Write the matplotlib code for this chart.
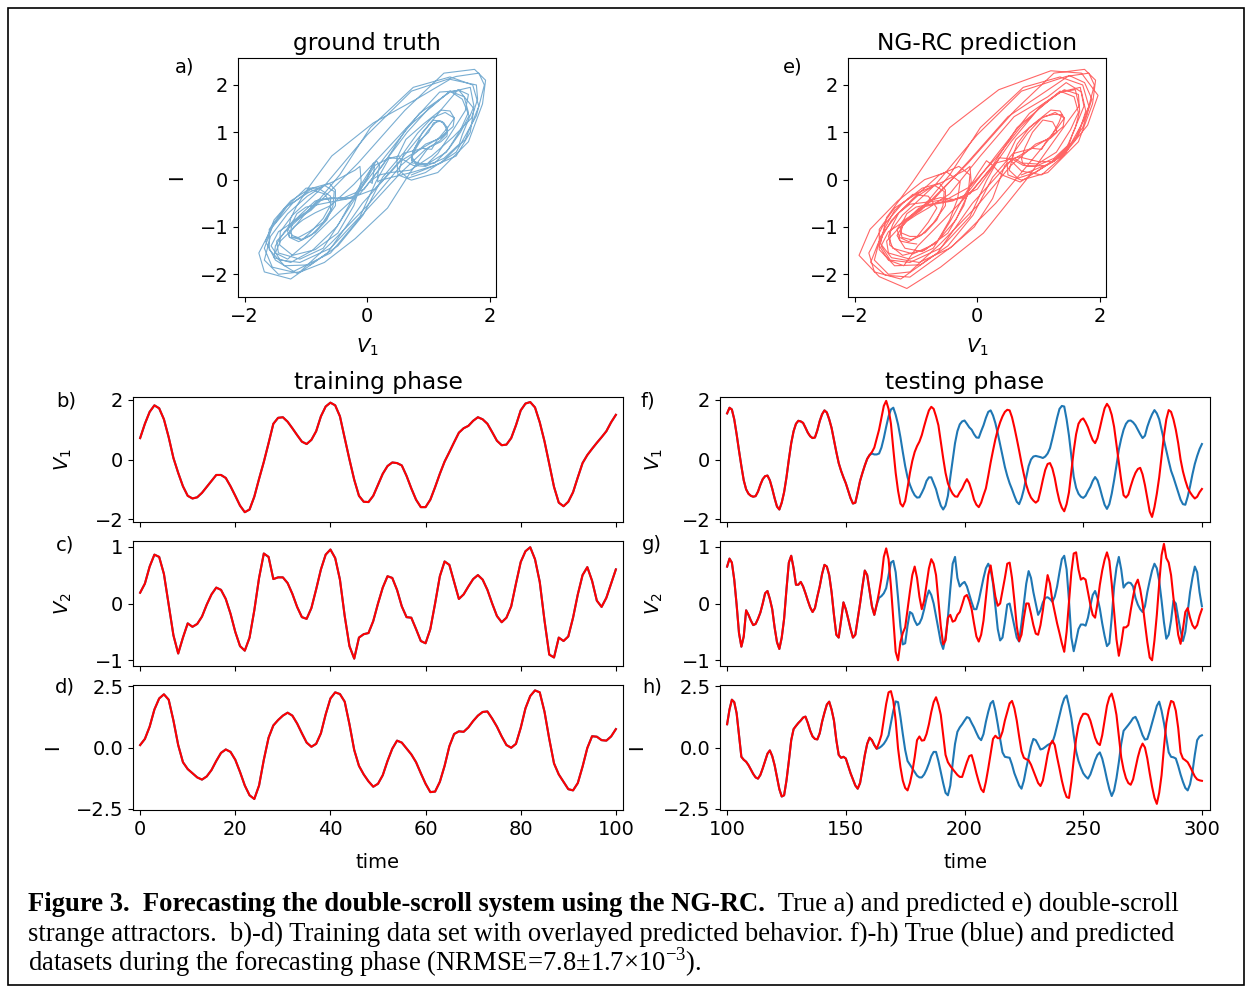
import numpy as np
import matplotlib
matplotlib.use('Agg')
import matplotlib.pyplot as plt
from matplotlib.patches import Rectangle

# ---------------- data: sampled every 1 time unit ----------------
t_train = np.arange(0, 101)
t_test = np.arange(100, 301)

v1_train = [
    0.72, 1.2, 1.6, 1.82, 1.72, 1.35, 0.75, 0.05, -0.45, -0.9,
    -1.22, -1.31, -1.27, -1.12, -0.92, -0.72, -0.52, -0.52, -0.62, -0.9,
    -1.22, -1.55, -1.77, -1.68, -1.25, -0.65, -0.08, 0.55, 1.2, 1.4,
    1.42, 1.27, 1.05, 0.82, 0.6, 0.52, 0.66, 0.95, 1.45, 1.78,
    1.91, 1.82, 1.45, 0.72, 0.0, -0.68, -1.22, -1.42, -1.43, -1.22,
    -0.85, -0.48, -0.22, -0.1, -0.12, -0.2, -0.55, -0.97, -1.35, -1.6,
    -1.6, -1.35, -0.93, -0.48, -0.07, 0.25, 0.58, 0.9, 1.05, 1.13,
    1.3, 1.42, 1.35, 1.2, 0.92, 0.63, 0.48, 0.5, 0.72, 1.15,
    1.65, 1.88, 1.93, 1.75, 1.25, 0.61, -0.15, -0.92, -1.45, -1.57,
    -1.42, -1.1, -0.6, -0.12, 0.15, 0.36, 0.56, 0.75, 0.95, 1.25,
    1.5]

v2_train = [
    0.19, 0.35, 0.65, 0.86, 0.82, 0.52, -0.02, -0.56, -0.88, -0.6,
    -0.35, -0.41, -0.36, -0.23, -0.02, 0.16, 0.28, 0.24, 0.08, -0.18,
    -0.5, -0.75, -0.83, -0.6, -0.12, 0.45, 0.88, 0.82, 0.43, 0.46,
    0.46, 0.36, 0.17, -0.06, -0.24, -0.27, -0.08, 0.25, 0.6, 0.86,
    0.95, 0.8, 0.42, -0.22, -0.75, -0.97, -0.6, -0.54, -0.52, -0.31,
    0.0, 0.28, 0.48, 0.45, 0.24, -0.05, -0.24, -0.25, -0.45, -0.66,
    -0.7, -0.45, 0.0, 0.48, 0.74, 0.68, 0.38, 0.08, 0.16, 0.3,
    0.43, 0.5, 0.42, 0.24, 0.0, -0.22, -0.33, -0.25, -0.05, 0.35,
    0.73, 0.92, 0.99, 0.78, 0.38, -0.3, -0.9, -0.95, -0.6, -0.66,
    -0.58, -0.25, 0.16, 0.5, 0.64, 0.4, 0.05, -0.06, 0.1, 0.35,
    0.6]

i_train = [
    0.1, 0.35, 0.85, 1.55, 2.0, 2.17, 1.95, 1.1, 0.1, -0.6,
    -0.88, -1.05, -1.22, -1.31, -1.18, -0.92, -0.55, -0.22, -0.08, -0.18,
    -0.5, -1.0, -1.55, -1.95, -2.1, -1.55, -0.5, 0.4, 0.9, 1.12,
    1.3, 1.42, 1.3, 0.98, 0.58, 0.2, 0.03, 0.15, 0.58, 1.35,
    2.0, 2.25, 2.18, 1.87, 0.95, -0.1, -0.75, -1.1, -1.38, -1.6,
    -1.48, -1.13, -0.55, -0.05, 0.28, 0.2, -0.04, -0.28, -0.6, -1.05,
    -1.48, -1.82, -1.8, -1.4, -0.75, 0.05, 0.55, 0.66, 0.64, 0.82,
    1.08, 1.3, 1.45, 1.47, 1.18, 0.85, 0.45, 0.1, -0.01, 0.15,
    0.8, 1.6, 2.1, 2.33, 2.25, 1.46, 0.35, -0.65, -1.1, -1.4,
    -1.7, -1.75, -1.45, -0.78, -0.02, 0.46, 0.44, 0.3, 0.28, 0.45,
    0.75]

# testing phase: prediction follows the truth for the first stretch
v1_shared = [
    1.55, 1.74, 1.68, 1.35, 0.85, 0.3, -0.22, -0.7, -1.0, -1.15,
    -1.22, -1.25, -1.23, -1.08, -0.85, -0.66, -0.56, -0.54, -0.7, -0.98,
    -1.3, -1.58, -1.68, -1.45, -1.1, -0.6, 0.0, 0.55, 0.95, 1.2,
    1.3, 1.28, 1.23, 1.07, 0.9, 0.78, 0.72, 0.74, 0.98, 1.29,
    1.52, 1.65, 1.58, 1.35, 1.06, 0.65, 0.25, -0.12, -0.38, -0.6,
    -0.8, -1.05, -1.3, -1.48, -1.45, -1.1, -0.72, -0.45, -0.2, 0.02,
    0.15]
v1_true_tail = [
    0.2, 0.17, 0.17, 0.2, 0.4, 0.72, 1.1, 1.45, 1.68, 1.74,
    1.5, 1.18, 0.75, 0.25, -0.22, -0.6, -0.85, -1.05, -1.2, -1.28,
    -1.27, -1.12, -0.95, -0.72, -0.6, -0.6, -0.8, -1.0, -1.3, -1.55,
    -1.68, -1.55, -1.22, -0.6, -0.02, 0.55, 0.95, 1.18, 1.28, 1.31,
    1.2, 1.08, 1.0, 0.85, 0.74, 0.73, 0.95, 1.15, 1.4, 1.6,
    1.65, 1.48, 1.22, 0.88, 0.5, 0.12, -0.25, -0.55, -0.8, -1.0,
    -1.22, -1.42, -1.5, -1.3, -1.0, -0.6, -0.22, 0.0, 0.1, 0.12,
    0.1, 0.08, 0.05, 0.1, 0.2, 0.38, 0.7, 1.05, 1.4, 1.7,
    1.8, 1.78, 1.35, 0.8, 0.1, -0.58, -0.95, -1.15, -1.25, -1.29,
    -1.22, -1.06, -0.92, -0.72, -0.59, -0.7, -0.95, -1.25, -1.52, -1.66,
    -1.5, -1.15, -0.7, -0.2, 0.33, 0.7, 1.0, 1.2, 1.3, 1.31,
    1.25, 1.15, 1.0, 0.85, 0.72, 0.8, 1.1, 1.33, 1.52, 1.66,
    1.55, 1.35, 1.0, 0.65, 0.3, -0.05, -0.38, -0.6, -0.85, -1.1,
    -1.35, -1.5, -1.52, -1.25, -0.9, -0.5, -0.15, 0.12, 0.35, 0.52]
v1_pred_tail = [
    0.25, 0.4, 0.7, 1.0, 1.4, 1.8, 1.97, 1.7, 1.2, 0.35,
    -0.45, -1.05, -1.48, -1.58, -1.4, -0.95, -0.45, -0.05, 0.25, 0.45,
    0.6, 0.82, 1.12, 1.4, 1.65, 1.77, 1.7, 1.45, 1.15, 0.6,
    0.05, -0.45, -0.8, -1.0, -1.15, -1.24, -1.25, -1.1, -0.98, -0.8,
    -0.66, -0.8, -1.05, -1.35, -1.52, -1.6, -1.45, -1.2, -0.97, -0.55,
    -0.1, 0.3, 0.68, 1.0, 1.25, 1.45, 1.6, 1.67, 1.65, 1.42,
    1.08, 0.7, 0.3, -0.12, -0.5, -0.85, -1.1, -1.28, -1.38, -1.45,
    -1.38, -1.05, -0.68, -0.35, -0.15, -0.12, -0.3, -0.62, -1.05, -1.4,
    -1.62, -1.74, -1.5, -1.1, -0.4, 0.3, 0.85, 1.2, 1.33, 1.38,
    1.25, 1.08, 0.85, 0.65, 0.55, 0.72, 1.05, 1.4, 1.72, 1.87,
    1.75, 1.5, 1.1, 0.5, -0.1, -0.7, -1.2, -1.28, -1.18, -0.9,
    -0.65, -0.45, -0.32, -0.28, -0.5, -0.86, -1.3, -1.75, -1.93, -1.6,
    -1.15, -0.6, 0.1, 0.8, 1.35, 1.66, 1.6, 1.35, 1.0, 0.55,
    0.0, -0.4, -0.7, -0.95, -1.1, -1.22, -1.31, -1.25, -1.1, -0.99]

v2_shared = [
    0.65, 0.79, 0.72, 0.42, -0.02, -0.52, -0.76, -0.58, -0.12, -0.2,
    -0.3, -0.38, -0.36, -0.27, -0.16, 0.0, 0.18, 0.22, 0.08, -0.1,
    -0.42, -0.68, -0.8, -0.6, -0.27, 0.25, 0.72, 0.84, 0.62, 0.33,
    0.33, 0.38, 0.3, 0.18, 0.05, -0.07, -0.15, -0.08, 0.12, 0.3,
    0.52, 0.68, 0.65, 0.5, 0.2, -0.2, -0.55, -0.6, -0.3, 0.02,
    -0.1, -0.27, -0.45, -0.6, -0.55, -0.28, 0.0, 0.3, 0.58, 0.5,
    0.22, -0.05, -0.2, -0.02]
v2_true_tail = [
    0.1, 0.13, 0.18, 0.27, 0.5, 0.72, 0.75, 0.55, 0.1, -0.4,
    -0.72, -0.7, -0.39, -0.15, -0.18, -0.3, -0.38, -0.35, -0.26, -0.1,
    0.1, 0.23, 0.15, 0.0, -0.22, -0.45, -0.68, -0.8, -0.6, -0.25,
    0.25, 0.7, 0.82, 0.45, 0.3, 0.35, 0.38, 0.3, 0.16, 0.02,
    -0.1, -0.1, 0.05, 0.25, 0.45, 0.62, 0.7, 0.6, 0.35, -0.05,
    -0.45, -0.65, -0.6, -0.33, -0.02, 0.0, -0.2, -0.4, -0.6, -0.67,
    -0.35, 0.0, 0.35, 0.57, 0.45, 0.2, 0.0, -0.2, -0.12, 0.02,
    0.1, 0.11, 0.08, 0.03, 0.12, 0.3, 0.55, 0.78, 0.84, 0.6,
    0.05, -0.6, -0.84, -0.65, -0.45, -0.37, -0.37, -0.39, -0.25, -0.04,
    0.15, 0.22, 0.1, -0.09, -0.35, -0.57, -0.75, -0.7, -0.25, 0.3,
    0.63, 0.82, 0.6, 0.28, 0.34, 0.37, 0.36, 0.3, 0.1, -0.02,
    -0.1, -0.15, -0.05, 0.2, 0.4, 0.58, 0.7, 0.62, 0.4, 0.05,
    -0.33, -0.62, -0.55, -0.3, 0.05, 0.0, -0.25, -0.48, -0.66, -0.5,
    -0.15, 0.2, 0.45, 0.65, 0.55, 0.2, -0.05]
v2_pred_tail = [
    0.2, 0.45, 0.82, 0.97, 0.78, 0.3, -0.27, -0.85, -1.0, -0.68,
    -0.52, -0.42, -0.1, 0.21, 0.5, 0.65, 0.45, 0.12, -0.1, 0.05,
    0.33, 0.62, 0.78, 0.7, 0.5, 0.05, -0.4, -0.72, -0.65, -0.25,
    -0.2, -0.32, -0.3, -0.2, -0.15, -0.02, 0.12, 0.15, 0.05, -0.1,
    -0.35, -0.58, -0.67, -0.55, -0.3, 0.1, 0.5, 0.67, 0.4, 0.12,
    -0.04, 0.0, 0.22, 0.45, 0.7, 0.72, 0.45, 0.05, -0.4, -0.66,
    -0.55, -0.25, 0.0, 0.0, -0.18, -0.38, -0.53, -0.55, -0.38, -0.12,
    0.2, 0.5, 0.35, 0.05, -0.15, -0.35, -0.52, -0.7, -0.85, -0.5,
    0.03, 0.55, 0.88, 0.9, 0.6, 0.42, 0.45, 0.42, 0.2, -0.02,
    -0.2, -0.25, 0.0, 0.33, 0.58, 0.77, 0.9, 0.75, 0.35, -0.15,
    -0.63, -0.92, -0.7, -0.42, -0.42, -0.38, -0.12, 0.12, 0.33, 0.42,
    0.25, 0.0, -0.35, -0.68, -0.95, -1.0, -0.65, -0.2, 0.35, 0.85,
    1.05, 0.8, 0.72, 0.5, 0.1, -0.2, -0.55, -0.71, -0.45, -0.15,
    -0.08, -0.25, -0.38, -0.44, -0.38, -0.22, -0.1]

i_shared = [
    0.95, 1.55, 1.95, 1.85, 1.4, 0.5, -0.38, -0.5, -0.58, -0.72,
    -0.9, -1.08, -1.22, -1.27, -1.12, -0.85, -0.55, -0.25, -0.12, -0.35,
    -0.72, -1.2, -1.7, -2.0, -1.95, -1.35, -0.55, 0.3, 0.75, 0.88,
    1.0, 1.1, 1.22, 1.26, 1.0, 0.68, 0.45, 0.35, 0.33, 0.58,
    1.05, 1.42, 1.75, 1.87, 1.55, 1.1, 0.3, -0.3, -0.42, -0.38,
    -0.45, -0.75, -1.05, -1.3, -1.55, -1.68, -1.45, -0.9, -0.31, 0.15,
    0.4, 0.3, 0.1, -0.05]
i_true_tail = [
    -0.02, 0.05, 0.15, 0.3, 0.5, 1.0, 1.5, 1.88, 1.85, 1.25,
    0.55, -0.1, -0.55, -0.7, -0.85, -1.0, -1.15, -1.22, -1.22, -1.1,
    -0.9, -0.65, -0.35, -0.18, -0.18, -0.55, -1.0, -1.45, -1.85, -1.95,
    -1.55, -0.65, 0.15, 0.64, 0.82, 0.95, 1.1, 1.24, 1.2, 1.0,
    0.82, 0.6, 0.4, 0.3, 0.55, 1.05, 1.46, 1.8, 1.9, 1.5,
    0.95, 0.35, -0.2, -0.38, -0.4, -0.42, -0.7, -1.05, -1.3, -1.55,
    -1.68, -1.35, -0.85, -0.4, 0.05, 0.35, 0.3, 0.12, -0.08, -0.05,
    0.02, 0.1, 0.15, 0.2, 0.5, 0.9, 1.3, 1.7, 2.0, 2.12,
    1.7, 1.2, 0.5, -0.15, -0.55, -0.82, -1.05, -1.18, -1.27, -1.1,
    -0.82, -0.52, -0.3, -0.2, -0.45, -0.85, -1.3, -1.7, -1.98, -1.75,
    -1.25, -0.6, 0.15, 0.68, 0.8, 0.92, 1.05, 1.2, 1.25, 1.05,
    0.78, 0.5, 0.32, 0.35, 0.65, 1.0, 1.35, 1.7, 1.87, 1.5,
    1.0, 0.4, -0.2, -0.38, -0.4, -0.45, -0.75, -1.1, -1.4, -1.65,
    -1.75, -1.5, -1.0, -0.3, 0.3, 0.45, 0.5]
i_pred_tail = [
    0.2, 0.51, 1.15, 1.78, 2.25, 2.3, 1.9, 1.1, -0.04, -0.8,
    -1.35, -1.65, -1.75, -1.45, -1.0, -0.4, 0.3, 0.45, 0.28, 0.3,
    0.55, 0.95, 1.45, 1.85, 2.05, 1.75, 1.33, 0.5, -0.3, -0.6,
    -0.75, -0.88, -1.0, -1.12, -1.2, -1.2, -0.9, -0.6, -0.35, -0.31,
    -0.65, -1.05, -1.4, -1.7, -1.82, -1.4, -0.85, -0.25, 0.35, 0.48,
    0.38, 0.38, 0.65, 1.1, 1.45, 1.8, 1.9, 1.6, 1.1, 0.45,
    -0.15, -0.42, -0.48, -0.52, -0.7, -0.95, -1.2, -1.45, -1.57, -1.35,
    -0.85, -0.3, 0.1, 0.28, 0.1, -0.4, -0.86, -1.35, -1.75, -2.02,
    -2.06, -1.4, -0.5, 0.35, 0.9, 1.2, 1.37, 1.38, 1.33, 1.1,
    0.75, 0.4, 0.18, 0.1, 0.5, 1.1, 1.7, 2.05, 2.2, 1.85,
    1.33, 0.45, -0.4, -0.9, -1.25, -1.45, -1.52, -1.3, -0.85, -0.4,
    -0.05, 0.16, 0.0, -0.45, -1.05, -1.6, -2.05, -2.3, -1.85, -1.13,
    0.0, 1.0, 1.55, 1.9, 1.85, 1.5, 0.8, -0.2, -0.45, -0.52,
    -0.6, -0.78, -0.98, -1.18, -1.3, -1.34, -1.36]

v1_true = v1_shared + v1_true_tail
v1_pred = v1_shared + v1_pred_tail
v2_true = v2_shared + v2_true_tail
v2_pred = v2_shared + v2_pred_tail
i_true = i_shared + i_true_tail
i_pred = i_shared + i_pred_tail

caption_bold = 'Figure 3.  Forecasting the double-scroll system using the NG-RC.'
caption_rest = '  True a) and predicted e) double-scroll'
caption_2 = ('strange attractors.  b)-d) Training data set with overlayed predicted '
             'behavior. f)-h) True (blue) and predicted')
caption_3 = 'datasets during the forecasting phase (NRMSE=7.8\u00b11.7\u00d710$^{\\mathregular{-3}}$).'

# ---------------- figure ----------------
blue = '#1f77b4'
red = 'red'
plt.rcParams['font.size'] = 14

W, H = 1252.0, 992.0
fig = plt.figure(figsize=(W / 100, H / 100), dpi=100)


def box(x0, y0, x1, y1):
    # pixel box (top-left origin) -> figure fraction
    return [x0 / W, 1 - y1 / H, (x1 - x0) / W, (y1 - y0) / H]


# attractors
ax_a = fig.add_axes(box(238, 58, 496, 297))
ax_a.plot(v1_train + v1_true, i_train + i_true, color=blue, lw=0.8, alpha=0.6)
ax_a.set_title('ground truth')

ax_e = fig.add_axes(box(848, 58, 1106, 297))
ax_e.plot(v1_train + v1_pred, i_train + i_pred, color=red, lw=0.8, alpha=0.6)
ax_e.set_title('NG-RC prediction')

for ax in (ax_a, ax_e):
    ax.set_xlim(-2.11, 2.10)
    ax.set_ylim(-2.48, 2.57)
    ax.set_xticks([-2, 0, 2])
    ax.set_yticks([-2, -1, 0, 1, 2])
    ax.set_xlabel('$V_1$', labelpad=8)
    ax.set_ylabel('I')
    ax.yaxis.set_label_coords(-0.20, 0.5)

# time series
rows = [(397, 522), (541, 666), (685, 810)]
train_series = [v1_train, v2_train, i_train]
true_series = [v1_true, v2_true, i_true]
pred_series = [v1_pred, v2_pred, i_pred]
ylabels = ['$V_1$', '$V_2$', 'I']
ylims = [(-2.1, 2.1), (-1.1, 1.1), (-2.55, 2.55)]
yticks = [[-2, 0, 2], [-1, 0, 1], [-2.5, 0, 2.5]]
label_x = [-0.121, -0.121, -0.145]
label_x_r = [-0.113, -0.113, -0.151]

axes_l, axes_r = [], []
for k, (y0, y1) in enumerate(rows):
    axl = fig.add_axes(box(133, y0, 623, y1))
    axl.plot(t_train, train_series[k], color=blue, lw=1.5)
    axl.plot(t_train, train_series[k], color=red, lw=1.5)
    axl.set_xlim(-1.5, 101.5)
    axl.set_xticks([0, 20, 40, 60, 80, 100])

    axr = fig.add_axes(box(720, y0, 1210, y1))
    axr.plot(t_test, true_series[k], color=blue, lw=1.5)
    axr.plot(t_test, pred_series[k], color=red, lw=1.5)
    axr.set_xlim(97.0, 303.4)
    axr.set_xticks([100, 150, 200, 250, 300])

    for ax, lx in ((axl, label_x[k]), (axr, label_x_r[k])):
        ax.set_ylim(*ylims[k])
        ax.set_yticks(yticks[k])
        ax.set_ylabel(ylabels[k])
        ax.yaxis.set_label_coords(lx, 0.5)
        if k < 2:
            ax.tick_params(labelbottom=False)
        else:
            ax.set_xlabel('time', labelpad=10)
    axes_l.append(axl)
    axes_r.append(axr)

axes_l[0].set_title('training phase')
axes_r[0].set_title('testing phase')

# panel letters
letters = [('a)', 185, 67), ('e)', 793, 67),
           ('b)', 66, 401), ('c)', 65, 545), ('d)', 65, 687),
           ('f)', 648, 401), ('g)', 652, 545), ('h)', 652, 687)]
for s, x, y in letters:
    fig.text(x / W, 1 - y / H, s, ha='center', va='center', fontsize=14)

# caption
cap_kw = dict(family='Liberation Serif', fontsize=19.2, va='baseline', ha='left')
tb = fig.text(28 / W, 1 - 911 / H, caption_bold, weight='bold', **cap_kw)
fig.canvas.draw()
x_end = tb.get_window_extent(fig.canvas.get_renderer()).x1
fig.text(x_end / W, 1 - 911 / H, caption_rest, **cap_kw)
fig.text(28 / W, 1 - 941 / H, caption_2, **cap_kw)
fig.text(28 / W, 1 - 971 / H, caption_3, **cap_kw)

# outer frame
fig.patches.append(Rectangle((8 / W, 1 - 985 / H), 1236 / W, 977 / H,
                             transform=fig.transFigure, fill=False,
                             edgecolor='black', lw=1.2))

fig.savefig('out.png', dpi=100)
